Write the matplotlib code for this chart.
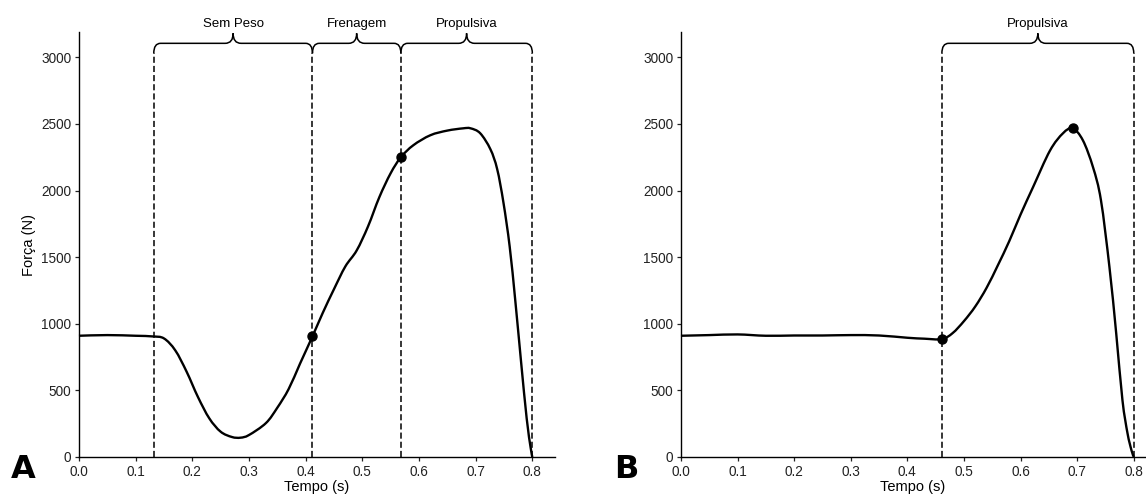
import matplotlib.pyplot as plt
from matplotlib.path import Path
from matplotlib.patches import PathPatch

plt.rcParams["font.family"] = ["Liberation Sans", "DejaVu Sans"]

# --- DATA ---
# panel A: countermovement jump force trace
tempo_a = [0.00, 0.05, 0.10, 0.13, 0.15, 0.17, 0.19, 0.21, 0.23, 0.25, 0.27,
           0.285, 0.30, 0.33, 0.35, 0.37, 0.39, 0.412, 0.43, 0.45, 0.47,
           0.49, 0.51, 0.53, 0.55, 0.568, 0.59, 0.62, 0.65, 0.678, 0.691,
           0.708, 0.726, 0.738, 0.749, 0.760, 0.770, 0.780, 0.790, 0.797,
           0.80]
forca_a = [910, 915, 910, 905, 890, 800, 640, 450, 290, 190, 150,
           145, 165, 255, 370, 510, 700, 905, 1080, 1260, 1430,
           1550, 1730, 1950, 2130, 2250, 2340, 2415, 2450, 2467, 2467,
           2430, 2310, 2160, 1910, 1580, 1170, 720, 290, 70,
           0]
fases_a = ["Sem Peso", "Frenagem", "Propulsiva"]
limites_a = [0.132, 0.412, 0.568, 0.80]
pontos_a_t = [0.412, 0.568]
pontos_a_f = [905, 2250]

# panel B: squat jump force trace
tempo_b = [0.00, 0.05, 0.10, 0.15, 0.20, 0.25, 0.30, 0.35, 0.40, 0.43,
           0.461, 0.48, 0.50, 0.52, 0.54, 0.56, 0.58, 0.60, 0.622, 0.652,
           0.675, 0.692, 0.710, 0.728, 0.742, 0.757, 0.769, 0.780, 0.789,
           0.796, 0.80]
forca_b = [910, 915, 920, 910, 912, 912, 915, 912, 895, 888,
           885, 930, 1020, 1130, 1270, 1440, 1620, 1820, 2025, 2300,
           2430, 2467, 2378, 2175, 1928, 1427, 927, 427, 177,
           50, 0]
fases_b = ["Propulsiva"]
limites_b = [0.461, 0.80]
pontos_b_t = [0.461, 0.692]
pontos_b_f = [885, 2467]

yticks = [0, 500, 1000, 1500, 2000, 2500, 3000]
xticks = [0.0, 0.1, 0.2, 0.3, 0.4, 0.5, 0.6, 0.7, 0.8]


def curva_suave(ax, t, f, **kw):
    # Catmull-Rom through the read points, drawn as a bezier path
    pts = list(zip(t, f))
    verts = [pts[0]]
    codes = [Path.MOVETO]
    for i in range(len(pts) - 1):
        p0 = pts[max(i - 1, 0)]
        p1 = pts[i]
        p2 = pts[i + 1]
        p3 = pts[min(i + 2, len(pts) - 1)]
        c1 = (p1[0] + (p2[0] - p0[0]) / 6, p1[1] + (p2[1] - p0[1]) / 6)
        c2 = (p2[0] - (p3[0] - p1[0]) / 6, p2[1] - (p3[1] - p1[1]) / 6)
        verts += [c1, c2, p2]
        codes += [Path.CURVE4] * 3
    ax.add_patch(PathPatch(Path(verts, codes), fill=False, **kw))


def chave(ax, x0, x1, y=3105, drop=75, bump=75, r=0.012, w=0.014):
    # curly brace over a phase
    xm = (x0 + x1) / 2
    verts = [(x0, y - drop), (x0, y), (x0 + r, y),
             (xm - w, y), (xm, y), (xm, y + bump),
             (xm, y), (xm + w, y),
             (x1 - r, y), (x1, y), (x1, y - drop)]
    codes = [Path.MOVETO, Path.CURVE3, Path.CURVE3,
             Path.LINETO, Path.CURVE3, Path.CURVE3,
             Path.CURVE3, Path.CURVE3,
             Path.LINETO, Path.CURVE3, Path.CURVE3]
    ax.add_patch(PathPatch(Path(verts, codes), fill=False, lw=1.1,
                           color="black", clip_on=False))


def painel(ax, t, f, limites, fases, pt, pf, letra, xmax, ylabel=True):
    curva_suave(ax, t, f, color="black", lw=1.7, zorder=3, clip_on=False)
    ax.plot(pt, pf, "o", color="black", ms=6.5, zorder=4)
    for x in limites:
        ax.plot([x, x], [0, 3030], color="black", lw=1.1,
                ls=(0, (4, 2)), clip_on=False)
    for i, nome in enumerate(fases):
        x0, x1 = limites[i], limites[i + 1]
        chave(ax, x0, x1)
        ax.text((x0 + x1) / 2, 3250, nome, ha="center", va="center",
                fontsize=9.5, clip_on=False)
    ax.set_xlim(0, xmax)
    ax.set_ylim(0, 3190)
    ax.set_xticks(xticks)
    ax.set_xticklabels([f"{v:.1f}" for v in xticks])
    ax.set_yticks(yticks)
    ax.tick_params(labelsize=9.8, length=3, width=0.9, colors="#222222",
                   pad=2.5)
    for s in ["top", "right"]:
        ax.spines[s].set_visible(False)
    ax.spines["left"].set_linewidth(1.0)
    ax.spines["bottom"].set_linewidth(1.0)
    ax.set_xlabel("Tempo (s)", fontsize=10.5, labelpad=1)
    if ylabel:
        ax.set_ylabel("Força (N)", fontsize=10.5, labelpad=4)
    ax.text(-0.118, -0.05, letra, transform=ax.transAxes, fontsize=23,
            fontweight="heavy", family="DejaVu Sans", ha="center",
            va="baseline")


fig = plt.figure(figsize=(11.46, 5), dpi=100)
ax1 = fig.add_axes([0.0689, 0.086, 0.4154, 0.85])
ax2 = fig.add_axes([0.5942, 0.086, 0.405, 0.85])

painel(ax1, tempo_a, forca_a, limites_a, fases_a, pontos_a_t, pontos_a_f,
       "A", 0.84)
painel(ax2, tempo_b, forca_b, limites_b, fases_b, pontos_b_t, pontos_b_f,
       "B", 0.82, ylabel=False)

fig.savefig("out.png", dpi=100)
